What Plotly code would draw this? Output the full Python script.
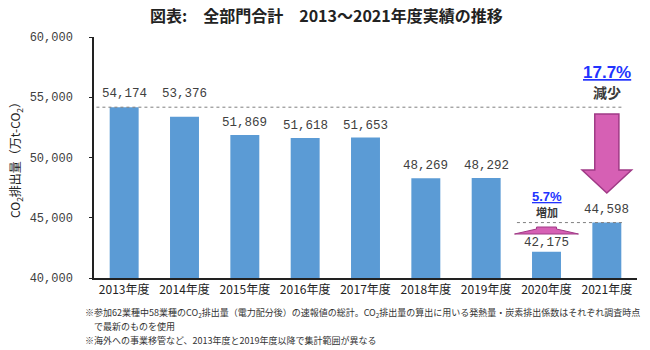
import plotly.graph_objects as go

categories = ["2013年度", "2014年度", "2015年度", "2016年度", "2017年度",
              "2018年度", "2019年度", "2020年度", "2021年度"]
emissions = [54174, 53376, 51869, 51618, 51653, 48269, 48292, 42175, 44598]
y_ticks = [40000, 45000, 50000, 55000, 60000]
y_tick_labels = ["40,000", "45,000", "50,000", "55,000", "60,000"]
decrease_label = "17.7%"
increase_label = "5.7%"

# per-label vertical offsets (px) as placed in the original chart
label_shift = [4, 14, 3, 3, 3, 3, 3, 0, 4]

JP = "Noto Sans CJK JP"
NUM = "Liberation Mono"
BAR = "#5B9BD5"
PINK = "#D660B4"
PINK_EDGE = "#A03A86"
BLUE = "#2233FF"

T, B, H = 37, 72, 350
L, R = 94, 13
ph = H - T - B
pw = 650 - L - R


def py(p):
    return 1 - (p - T) / ph


def px(p):
    return (p - L) / pw


fig = go.Figure()
fig.add_trace(go.Bar(x=categories, y=emissions, marker=dict(color=BAR, line=dict(width=0)),
                     hoverinfo="skip"))

annotations = []
for c, v, s in zip(categories, emissions, label_shift):
    annotations.append(dict(x=c, y=v, xref="x", yref="y", text=f"{v:,}", showarrow=False,
                            yshift=s, yanchor="bottom", xanchor="center",
                            font=dict(family=NUM, size=12.5, color="#404040")))

# Dashed reference lines
shapes = [
    dict(type="line", xref="x", yref="y", x0=-0.46, x1=8.25, y0=emissions[0], y1=emissions[0],
         line=dict(color="#7F7F7F", width=1, dash="dot")),
    dict(type="line", xref="x", yref="y", x0=6.51, x1=8.25, y0=emissions[-1], y1=emissions[-1],
         line=dict(color="#7F7F7F", width=1, dash="dot")),
]

# Big down arrow (2021)
cx = 8.0
sw, hw = 0.2, 0.41
y_top, y_head, y_tip = 53610, 48963, 47054
path = (f"M {cx-sw},{y_top} L {cx+sw},{y_top} L {cx+sw},{y_head} L {cx+hw},{y_head} "
        f"L {cx},{y_tip} L {cx-hw},{y_head} L {cx-sw},{y_head} Z")
shapes.append(dict(type="path", xref="x", yref="y", path=path, fillcolor=PINK,
                   line=dict(color=PINK_EDGE, width=1.5)))

# Small up arrow (2020)
cx2 = 7.0
bw, sw2 = 0.53, 0.165
yb, ys, yt = 43651, 44066, 44232
path2 = (f"M {cx2-bw},{yb} L {cx2+bw},{yb} L {cx2+sw2},{ys} L {cx2+sw2},{yt} "
         f"L {cx2-sw2},{yt} L {cx2-sw2},{ys} Z")
shapes.append(dict(type="path", xref="x", yref="y", path=path2, fillcolor=PINK,
                   line=dict(color=PINK_EDGE, width=1)))

C = dict(xanchor="center", yanchor="middle", showarrow=False)
annotations += [
    dict(x=8.0, y=py(72), xref="x", yref="paper", text=f"<b>{decrease_label}</b>",
         font=dict(family="Liberation Sans", size=17, color=BLUE, lineposition="under"), **C),
    dict(x=8.0, y=py(92), xref="x", yref="paper", text="<b>減少</b>",
         font=dict(family=JP, size=14, color="#3A3A3A"), **C),
    dict(x=7.0, y=py(196), xref="x", yref="paper", text=f"<b>{increase_label}</b>",
         font=dict(family="Liberation Sans", size=13, color=BLUE, lineposition="under"), **C),
    dict(x=7.0, y=py(212), xref="x", yref="paper", text="<b>増加</b>",
         font=dict(family=JP, size=11, color="#3A3A3A"), **C),
]

FN = dict(showarrow=False, xanchor="left", yanchor="middle", xref="paper", yref="paper")
annotations += [
    dict(x=px(326), y=py(15), xref="paper", yref="paper",
         text="<b>図表:　全部門合計　2013～2021年度実績の推移</b>",
         font=dict(family=JP, size=16, color="#222222"), **C),
    dict(x=px(83), y=py(313),
         text="※参加62業種中58業種のCO<sub>2</sub>排出量（電力配分後）の速報値の総計。CO<sub>2</sub>排出量の算出に用いる発熱量・炭素排出係数はそれぞれ調査時点",
         font=dict(family=JP, size=9, color="#333333"), **FN),
    dict(x=px(83), y=py(326), text="　で最新のものを使用",
         font=dict(family=JP, size=9, color="#333333"), **FN),
    dict(x=px(83), y=py(340), text="※海外への事業移管など、2013年度と2019年度以降で集計範囲が異なる",
         font=dict(family=JP, size=9, color="#333333"), **FN),
    dict(x=px(15), y=py(157), xref="paper", yref="paper", textangle=-90,
         text="CO<sub>2</sub>排出量（万t-CO<sub>2</sub>）",
         font=dict(family=JP, size=12, color="#222222"), **C),
]

fig.update_layout(
    width=650, height=350,
    margin=dict(l=L, r=R, t=T, b=B),
    paper_bgcolor="white", plot_bgcolor="white",
    showlegend=False,
    bargap=0.52,
    annotations=annotations,
    shapes=shapes,
    xaxis=dict(showline=True, linecolor="#222222", linewidth=1.5, ticks="",
               tickfont=dict(family=JP, size=12, color="#222222"), showgrid=False,
               zeroline=False, range=[-0.5, 8.5]),
    yaxis=dict(range=[40000, 60000], tickvals=y_ticks, ticktext=y_tick_labels,
               showline=True, linecolor="#222222", linewidth=1.5, ticks="outside",
               ticklen=3, tickcolor="#222222", showgrid=False, zeroline=False,
               tickfont=dict(family=NUM, size=12, color="#404040"), ticklabelstandoff=14),
)

fig.write_html("out.html")
